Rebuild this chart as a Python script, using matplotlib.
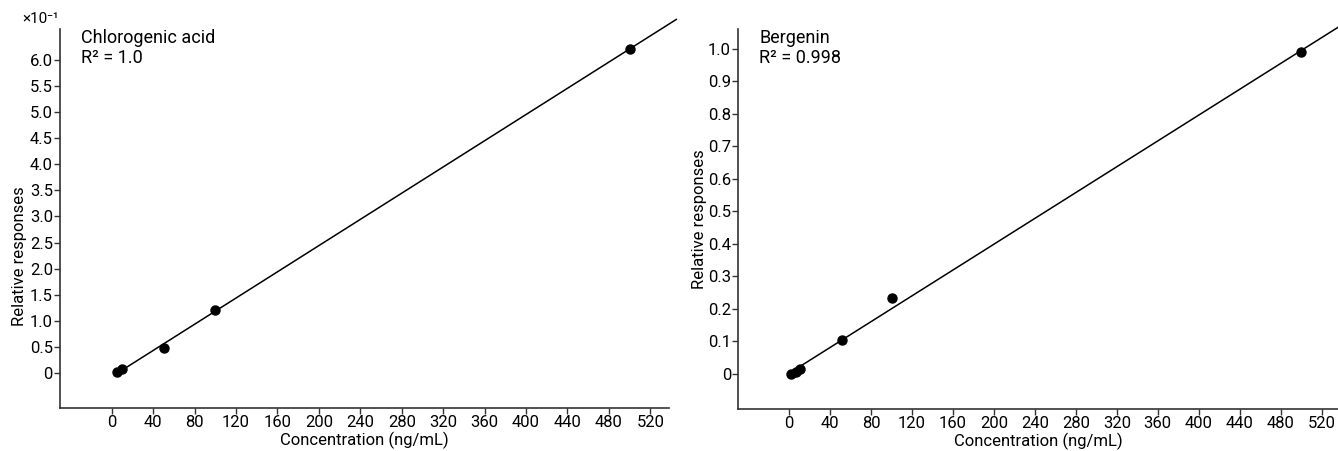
import numpy as np
import matplotlib
matplotlib.use('Agg')
import matplotlib.pyplot as plt

plt.rcParams['font.family'] = ['Roboto', 'DejaVu Sans']

# Chlorogenic acid (y in units of 10^-1)
chloro_x = [5, 10, 50, 100, 500]
chloro_y = [0.02, 0.08, 0.48, 1.21, 6.21]

# Bergenin
berg_x = [2, 7, 11, 52, 100, 500]
berg_y = [0.0, 0.006, 0.016, 0.103, 0.232, 0.988]

x_ticks = list(range(0, 521, 40))
chloro_yticks = [0, 0.5, 1.0, 1.5, 2.0, 2.5, 3.0, 3.5, 4.0, 4.5, 5.0, 5.5, 6.0]
berg_yticks = [0, 0.1, 0.2, 0.3, 0.4, 0.5, 0.6, 0.7, 0.8, 0.9, 1.0]

fig = plt.figure(figsize=(13.38, 4.51), dpi=100)
ax1 = fig.add_axes([0.0448, 0.0953, 0.4552, 0.8404])
ax2 = fig.add_axes([0.5516, 0.0931, 0.4484, 0.8426])


def style(ax, yticks, ylabels):
    for s in ['top', 'right']:
        ax.spines[s].set_visible(False)
    for s in ['left', 'bottom']:
        ax.spines[s].set_linewidth(1.2)
        ax.spines[s].set_color('#333333')
    ax.set_xticks(x_ticks)
    ax.set_xticklabels([str(t) for t in x_ticks])
    ax.set_yticks(yticks)
    ax.set_yticklabels(ylabels)
    ax.tick_params(direction='out', length=4, width=1, labelsize=12, pad=1, color='#333333')
    ax.set_xlabel('Concentration (ng/mL)', fontsize=12, labelpad=1)


# left panel
c = np.polyfit(chloro_x, chloro_y, 1)
lx = np.array([8, 545])
ax1.plot(lx, np.polyval(c, lx), color='black', lw=1.1, clip_on=False)
ax1.plot(chloro_x, chloro_y, 'o', color='black', ms=6.5, clip_on=False)
ax1.set_xlim(-50, 538)
ax1.set_ylim(-0.67, 6.59)
style(ax1, chloro_yticks, ['0'] + ['%.1f' % v for v in chloro_yticks[1:]])
ax1.set_ylabel('Relative responses', fontsize=12)
ax1.yaxis.set_label_coords(-0.054, 0.4, transform=ax1.transAxes)
ax1.text(0.035, 1.0, 'Chlorogenic acid\nR\u00b2 = 1.0', transform=ax1.transAxes,
         fontsize=13, va='top', ha='left', linespacing=1.15)
fig.text(0.017, 0.943, '\u00d710\u207b\u00b9', fontsize=11, ha='left', va='bottom')

# right panel
b = np.polyfit(berg_x, berg_y, 1)
lx2 = np.array([2, 540])
ax2.plot(lx2, np.polyval(b, lx2), color='black', lw=1.1, clip_on=False)
ax2.plot(berg_x, berg_y, 'o', color='black', ms=6.5, clip_on=False)
ax2.set_xlim(-50, 536)
ax2.set_ylim(-0.108, 1.06)
style(ax2, berg_yticks, ['0'] + ['%.1f' % v for v in berg_yticks[1:]])
ax2.set_ylabel('Relative responses', fontsize=12)
ax2.yaxis.set_label_coords(-0.052, 0.5, transform=ax2.transAxes)
ax2.text(0.035, 1.0, 'Bergenin\nR\u00b2 = 0.998', transform=ax2.transAxes,
         fontsize=13, va='top', ha='left', linespacing=1.15)

fig.savefig('out.png', dpi=100)
